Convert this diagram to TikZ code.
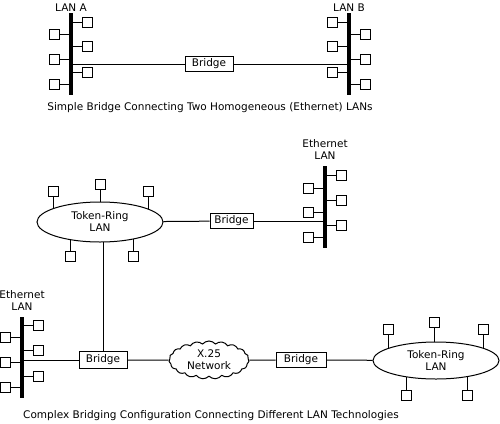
\documentclass[tikz,border=0pt]{standalone}
\usepackage{fontspec}
\setmainfont{DejaVu Sans}
\usetikzlibrary{shapes.geometric,shapes.symbols,backgrounds}
\begin{document}
\begin{tikzpicture}[x=1pt, y=-1pt,
                    line width=1pt,
                    font=\fontsize{10.5}{12}\selectfont,
                    ]
    \tikzstyle{station}=[draw,fill=white,minimum size=10pt,inner sep=0pt]
    \tikzstyle{bus}=[fill=black,minimum width=3.5pt,minimum height=82pt,inner sep=0pt]
    \tikzstyle{bridge}=[draw,fill=white,minimum width=48pt,minimum height=15pt,inner sep=1pt]
    \tikzstyle{ring}=[draw,fill=white,ellipse,align=center,inner sep=0pt,minimum width=126pt,minimum height=40pt]
    \tikzstyle{wan}=[draw,fill=white,cloud,cloud puffs=19,cloud puff arc=100,aspect=2,align=center,inner sep=0pt,minimum width=80pt,minimum height=38pt]
    \tikzstyle{lanlabel}=[above,align=center,inner sep=1pt]

    \useasboundingbox (0,0) rectangle (500,423);

    % simple bridge between two ethernet LANs
    \node[bus] (lanA) at (71,54) {};
    \node[bus] (lanB) at (349,54) {};
    \node[lanlabel] at (lanA.north) {LAN A};
    \node[lanlabel] at (lanB.north) {LAN B};
    \foreach \y [count=\i] in {22,46,72} {
        \node[station] (ar\i) at (87.5,\y) {};
        \draw (ar\i) -- (ar\i -| lanA);
        \node[station] (bl\i) at (332.5,\y) {};
        \draw (bl\i) -- (bl\i -| lanB);
    }
    \foreach \y [count=\i] in {34,59,84} {
        \node[station] (al\i) at (54,\y) {};
        \draw (al\i) -- (al\i -| lanA);
        \node[station] (br\i) at (365.5,\y) {};
        \draw (br\i) -- (br\i -| lanB);
    }
    \node[bridge] (bridge1) at (209,64) {Bridge};
    \draw (bridge1) -- (bridge1 -| lanA);
    \draw (bridge1) -- (bridge1 -| lanB);
    \node (caption1) at (210,108) {Simple Bridge Connecting Two Homogeneous (Ethernet) LANs};

    % complex configuration
    \node[ring] (ring1) at (100,222) {Token-Ring\\LAN};
    \node[ring, minimum height=37pt] (ring2) at (436,360.5) {Token-Ring\\LAN};
    \node[bus] (lanC) at (325,207) {};
    \node[bus, minimum height=81pt] (lanD) at (22,357.5) {};
    \node[lanlabel, inner sep=6pt] at (lanC.north) {Ethernet\\LAN};
    \node[lanlabel, inner sep=6pt] at (lanD.north) {Ethernet\\LAN};
    \node[bridge, minimum width=43pt] (bridge2) at (231.5,221) {Bridge};
    \node[bridge, minimum height=17pt] (bridge3) at (103,360) {Bridge};
    \node[wan] (x25) at (209,360) {X.25\\Network};
    \node[bridge, minimum width=50pt] (bridge4) at (301,360) {Bridge};

    \foreach \y [count=\i] in {175,200,225} {
        \node[station] (cr\i) at (341.5,\y) {};
        \draw (cr\i) -- (cr\i -| lanC);
    }
    \foreach \y [count=\i] in {188,212,237} {
        \node[station] (cl\i) at (308,\y) {};
        \draw (cl\i) -- (cl\i -| lanC);
    }
    \foreach \y [count=\i] in {325,350,376} {
        \node[station] (dr\i) at (38,\y) {};
        \draw (dr\i) -- (dr\i -| lanD);
    }
    \foreach \y [count=\i] in {337,362,387} {
        \node[station] (dl\i) at (5,\y) {};
        \draw (dl\i) -- (dl\i -| lanD);
    }

    % ring stations
    \foreach \x/\y [count=\i] in {53.5/191, 100.5/184, 148/191.5, 70/256.5, 133/256.5} {
        \node[station] (ra\i) at (\x,\y) {};
    }
    \foreach \x/\y [count=\i] in {388/329, 434.5/322, 483.5/329, 406/395, 467.5/395} {
        \node[station] (rb\i) at (\x,\y) {};
    }

    \begin{scope}[on background layer]
        \foreach \i in {1,...,5} {
            \draw (ra\i) -- (ra\i |- ring1.center);
            \draw (rb\i) -- (rb\i |- ring2.center);
        }
        \draw (bridge3) -- (bridge3 |- ring1.center);
    \end{scope}

    \draw (ring1) -- (bridge2);
    \draw (bridge2) -- (bridge2 -| lanC);
    \draw (bridge3) -- (bridge3 -| lanD);
    \draw (bridge3) -- (x25);
    \draw (x25) -- (bridge4);
    \draw (bridge4) -- (ring2);

    \node (caption2) at (211,416) {Complex Bridging Configuration Connecting Different LAN Technologies};
\end{tikzpicture}
\end{document}
